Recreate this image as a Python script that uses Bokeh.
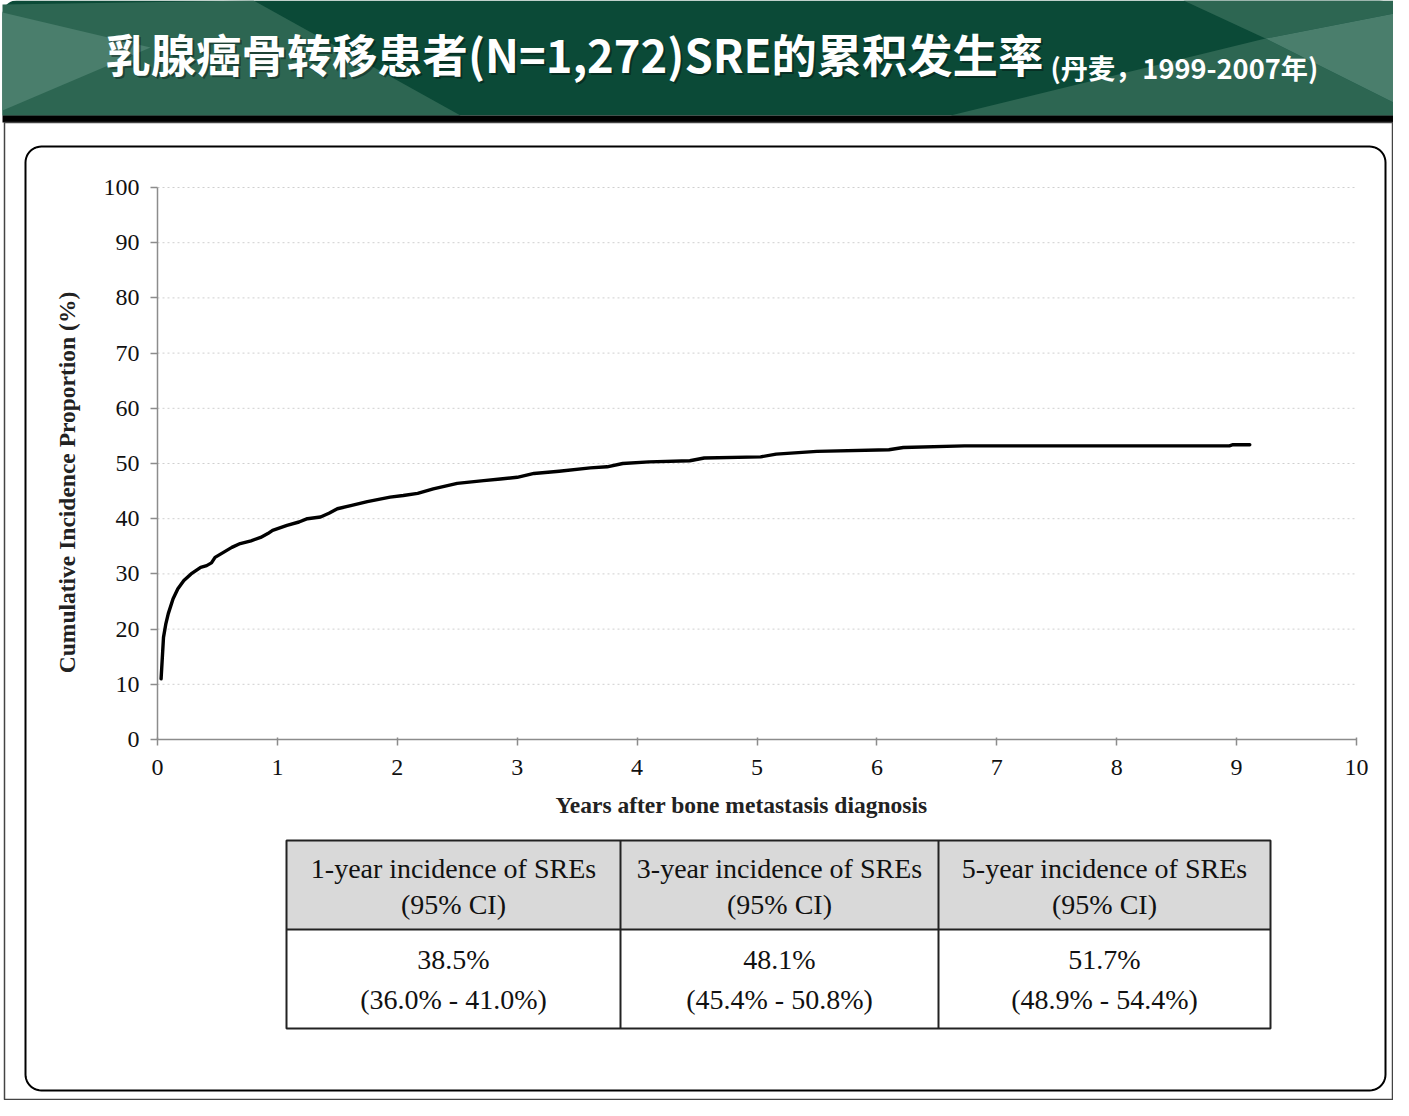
import numpy as np
from bokeh.plotting import figure
from bokeh.models import Range1d, LinearAxis
from bokeh.core.properties import value
from bokeh.embed import file_html
from bokeh.resources import INLINE

# cumulative incidence of SREs
years = [0.03, 0.05, 0.07, 0.09, 0.13, 0.17, 0.22, 0.28, 0.36, 0.41, 0.45,
         0.48, 0.55, 0.62, 0.69, 0.78, 0.86, 0.92, 0.96, 1.08, 1.18, 1.25,
         1.36, 1.43, 1.50, 1.62, 1.75, 1.94, 2.05, 2.17, 2.30, 2.50, 2.72,
         2.86, 3.00, 3.14, 3.35, 3.61, 3.75, 3.88, 4.10, 4.44, 4.56, 5.03,
         5.16, 5.50, 6.10, 6.22, 6.73, 8.94, 8.97, 9.11]
cum_incidence = [11.0, 18.5, 21.0, 22.8, 25.5, 27.3, 28.8, 30.0, 31.2, 31.5,
                 32.0, 33.0, 33.9, 34.8, 35.5, 36.0, 36.6, 37.3, 37.9, 38.8,
                 39.4, 40.0, 40.3, 41.0, 41.8, 42.4, 43.1, 43.9, 44.2, 44.6,
                 45.4, 46.4, 46.9, 47.2, 47.5, 48.2, 48.6, 49.2, 49.4, 50.0,
                 50.3, 50.5, 51.0, 51.2, 51.7, 52.2, 52.5, 52.9, 53.2, 53.2,
                 53.4, 53.4]

x_ticks = list(range(0, 11))
y_ticks = list(range(0, 101, 10))

title = "乳腺癌骨转移患者(N=1,272)SRE的累积发生率"
subtitle = "(丹麦，1999-2007年)"
x_label = "Years after bone metastasis diagnosis"
y_label = "Cumulative Incidence Proportion (%)"

table_head = ["1-year incidence of SREs", "3-year incidence of SREs",
              "5-year incidence of SREs"]
table_head_ci = ["(95% CI)", "(95% CI)", "(95% CI)"]
table_value = ["38.5%", "48.1%", "51.7%"]
table_ci = ["(36.0% - 41.0%)", "(45.4% - 50.8%)", "(48.9% - 54.4%)"]

SERIF = "Liberation Serif, serif"
CJK = "Noto Sans CJK SC"
W, H = 1393, 1100

# chart area on the canvas (pixels from top-left)
PX_L, PX_R, PX_T, PX_B = 157, 1356, 187, 739
kx = (PX_R - PX_L) / 10.0
ky = (PX_B - PX_T) / 100.0

# the frame is the whole canvas; default ranges are canvas pixels
p = figure(width=W, height=H, output_backend="svg", toolbar_location=None,
           x_range=Range1d(0, W), y_range=Range1d(H, 0),
           x_axis_location=None, y_axis_location=None, min_border=0)
p.outline_line_color = None
p.background_fill_color = "white"
p.border_fill_color = "white"
p.grid.visible = False
p.extra_x_ranges = {"yrs": Range1d(-PX_L / kx, (W - PX_L) / kx)}
p.extra_y_ranges = {"pct": Range1d(-(H - PX_B) / ky, PX_B / ky)}


def rounded(l, t, r, b, rad, bottom_round=True):
    xs, ys = [], []
    corners = [((l + rad, t + rad), np.pi, np.pi / 2, rad),
               ((r - rad, t + rad), np.pi / 2, 0, rad)]
    rb = rad if bottom_round else 0
    corners += [((r - rb, b - rb), 0, -np.pi / 2, rb),
                ((l + rb, b - rb), -np.pi / 2, -np.pi, rb)]
    for (cx, cy), a0, a1, rr in corners:
        th = np.linspace(a0, a1, 12)
        xs += list(cx + rr * np.cos(th))
        ys += list(cy - rr * np.sin(th))
    return xs + xs[:1], ys + ys[:1]


# header band
hx, hy = rounded(2, 0, W, 115, 14, bottom_round=False)
p.patch(hx, hy, fill_color="#0b4a37", line_color=None)
mid, light = "#2d6652", "#4a7e6c"
shapes = [([(2, 4), (253, 0), (460, 115), (2, 115)], mid),
          ([(2, 12), (150, 47), (2, 110)], light),
          ([(1183, 0), (1400, 0), (1409, 10), (1265, 38)], mid),
          ([(950, 115), (1265, 38), (1409, 110), (1409, 115)], mid),
          ([(1265, 38), (1409, 10), (1409, 110)], light)]
p.patches([[x for x, _ in s] for s, _ in shapes], [[y for _, y in s] for s, _ in shapes],
          fill_color=[c for _, c in shapes], line_color=None)
p.quad(left=2, right=W, top=115, bottom=122, fill_color="black", line_color=None)

p.text(x=[107], y=[54], text=[title], text_font=value(CJK), text_font_size="45.3px",
       text_font_style="bold", text_color="black", text_alpha=0.35,
       text_baseline="middle")
p.text(x=[105], y=[52], text=[title], text_font=value(CJK), text_font_size="45.3px",
       text_font_style="bold", text_color="white", text_baseline="middle")
p.text(x=[1050], y=[66], text=[subtitle], text_font=value(CJK),
       text_font_size="27.2px", text_font_style="bold", text_color="white",
       text_baseline="middle")

# white panel and rounded inner frame
p.quad(left=4, right=W - 1, top=122, bottom=H - 1, fill_alpha=0,
       line_color="#444444", line_width=1.5)
rx, ry = rounded(25, 146, 1385, 1090, 16)
p.line(rx, ry, line_color="black", line_width=2)

# chart
rng = dict(x_range_name="yrs", y_range_name="pct")
grid_y = y_ticks[1:]
p.segment(x0=[x_ticks[0]] * len(grid_y), x1=[x_ticks[-1]] * len(grid_y),
          y0=grid_y, y1=grid_y, line_color="#cfcfcf", line_width=1,
          line_dash="2 3", **rng)
p.line(years, cum_incidence, line_color="black", line_width=3.4,
       line_join="round", line_cap="round", **rng)

xaxis = LinearAxis(fixed_location=0, bounds=(0, 10), ticker=x_ticks, **rng)
yaxis = LinearAxis(fixed_location=0, bounds=(0, 100), ticker=y_ticks, **rng)
for ax in (xaxis, yaxis):
    ax.axis_line_color = "#8c8c8c"
    ax.axis_line_width = 1.5
    ax.major_tick_line_color = "#8c8c8c"
    ax.major_tick_line_width = 1.5
    ax.minor_tick_line_color = None
    ax.major_label_text_font = SERIF
    ax.major_label_text_font_size = "24px"
    ax.major_label_text_color = "#111111"
xaxis.major_tick_out = 6
xaxis.major_tick_in = 2
yaxis.major_tick_out = 7
yaxis.major_tick_in = 0
xaxis.major_label_standoff = 14
yaxis.major_label_standoff = 11
p.add_layout(xaxis, "below")
p.add_layout(yaxis, "left")

# axis titles, placed as in the original (slightly off-centre)
label_kw = dict(text_font=value(SERIF), text_font_size="23.5px",
                text_font_style="bold", text_color="#222222",
                text_align="center", text_baseline="middle")
p.text(x=[741], y=[804], text=[x_label], **label_kw)
p.text(x=[66], y=[482], text=[y_label], angle=np.pi / 2, **label_kw)

# table under the chart
col_edges = [286, 620, 938, 1270]
row_edges = [840, 929, 1028]
p.quad(left=col_edges[0], right=col_edges[-1], top=row_edges[0],
       bottom=row_edges[1], fill_color="#d9d9d9", line_color=None)
p.quad(left=col_edges[0], right=col_edges[-1], top=row_edges[0],
       bottom=row_edges[-1], fill_alpha=0, line_color="#222222", line_width=2)
p.segment(x0=col_edges[1:-1], x1=col_edges[1:-1], y0=row_edges[0], y1=row_edges[-1],
          line_color="#222222", line_width=2)
p.segment(x0=col_edges[0], x1=col_edges[-1], y0=row_edges[1], y1=row_edges[1],
          line_color="#222222", line_width=2)

centers = [(a + b) / 2 for a, b in zip(col_edges[:-1], col_edges[1:])]
cells = table_head + table_head_ci + table_value + table_ci
cell_y = [868] * 3 + [904] * 3 + [959] * 3 + [999] * 3
p.text(x=centers * 4, y=cell_y, text=cells, text_font=value(SERIF),
       text_font_size="28px", text_color="#111111", text_align="center",
       text_baseline="middle")

open("out.html", "w").write(file_html(p, INLINE))
